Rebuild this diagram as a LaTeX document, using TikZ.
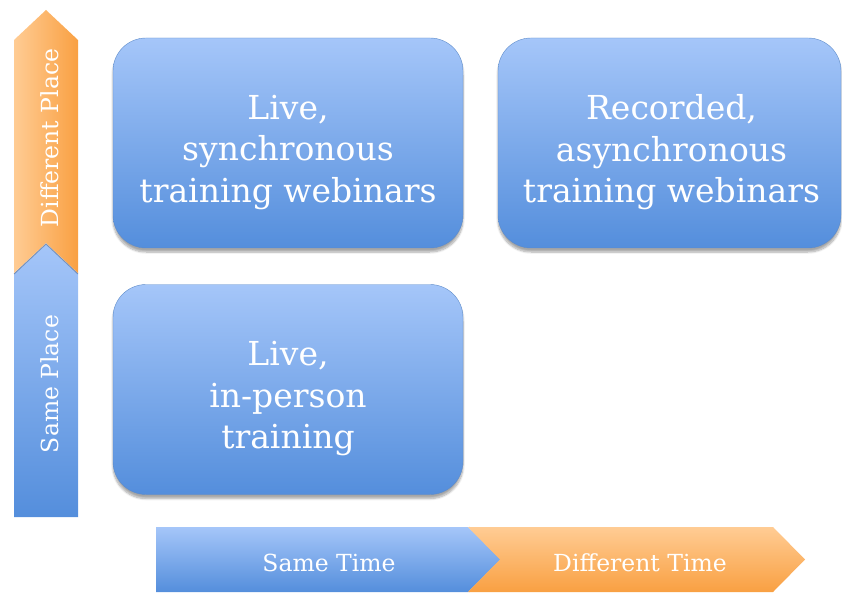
\documentclass[tikz,border=0pt]{standalone}
\usepackage{fontspec}
\setmainfont{DejaVu Serif}
\usetikzlibrary{shadows.blur}
\definecolor{bluetop}{RGB}{165,198,249}
\definecolor{bluebot}{RGB}{84,142,220}
\definecolor{orlight}{RGB}{255,204,148}
\definecolor{ordark}{RGB}{249,160,66}
\tikzset{
  cell/.style={rounded corners=33pt, minimum width=350pt, minimum height=210pt,
    top color=bluetop, bottom color=bluebot, draw=bluebot!80!gray, line width=0.4pt,
    inner sep=0pt,
    blur shadow={shadow xshift=0pt, shadow yshift=-4pt, shadow blur steps=8, shadow opacity=35}},
  celltext/.style={text=white, align=center, font=\fontsize{33}{41.5}\selectfont, inner sep=0pt},
  axislabel/.style={text=white, font=\fontsize{23.5}{28}\selectfont, inner sep=0pt},
  seam/.style={draw=black, draw opacity=0.25, line width=1pt},
}
\begin{document}
\begin{tikzpicture}[x=1pt,y=-1pt]
\useasboundingbox (0,0) rectangle (842,593);
% vertical axis
\path[top color=bluetop, bottom color=bluebot] (14,273) -- (46,243) -- (78,273) -- (78,517) -- (14,517) -- cycle;
\path[seam] (14,274) -- (46,244) -- (78,274);
\path[left color=orlight, right color=ordark] (14,40) -- (46,10) -- (78,40) -- (78,273) -- (46,243) -- (14,273) -- cycle;
\node[axislabel, rotate=90] (dp) at (50,138) {Different Place};
\node[axislabel, rotate=90] (sp) at (50,384) {Same Place};
% horizontal axis
\path[top color=bluetop, bottom color=bluebot] (156,527) -- (468,527) -- (500,559.5) -- (468,592) -- (156,592) -- cycle;
\path[seam] (469,527) -- (501,559.5) -- (469,592);
\path[top color=orlight, bottom color=ordark] (468,527) -- (773,527) -- (805,559.5) -- (773,592) -- (468,592) -- (500,559.5) -- cycle;
\node[axislabel] (st) at (329,563) {Same Time};
\node[axislabel] (dt) at (640,563) {Different Time};
% cells
\node[cell] (sync) at (288,143) {};
\node[cell, minimum width=343pt] (async) at (669.5,143) {};
\node[cell] (inperson) at (288,389.5) {};
\node[celltext] (synct) at ([yshift=-9.5pt]sync.center) {Live,\\synchronous\\training webinars};
\node[celltext] (asynct) at ([yshift=-9.5pt,xshift=2pt]async.center) {Recorded,\\asynchronous\\training webinars};
\node[celltext] (inpersont) at ([yshift=-9.5pt]inperson.center) {Live,\\in-person\\training};
\end{tikzpicture}
\end{document}
